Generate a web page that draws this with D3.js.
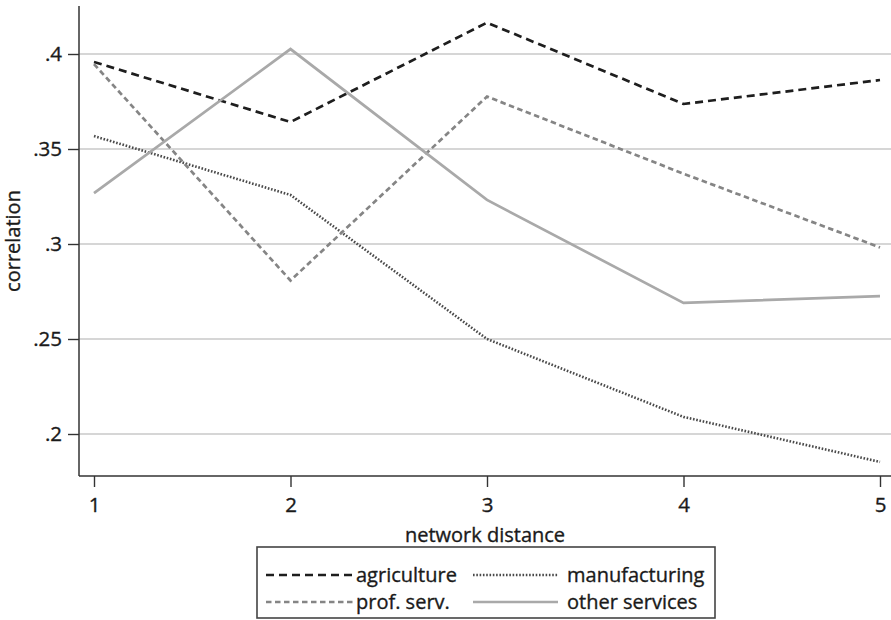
<!DOCTYPE html>
<html>
<head>
<meta charset="utf-8">
<script src="https://cdn.jsdelivr.net/npm/d3@7"></script>
<style>
  html, body { margin: 0; padding: 0; background: #fff; }
  svg { display: block; }
  text { font-family: "Open Sans", "Noto Sans", sans-serif; fill: #1a1a1a; stroke: #1a1a1a; stroke-width: 0.35px; }
</style>
</head>
<body>
<svg id="chart" width="891" height="620"></svg>
<script>
// Network distance (x) and correlation by sector
const distances = [1, 2, 3, 4, 5];
const agriculture   = [0.3958, 0.3642, 0.4165, 0.3737, 0.3863];
const manufacturing = [0.3568, 0.3258, 0.2500, 0.2090, 0.1853];
const profServ      = [0.3947, 0.2808, 0.3776, 0.3370, 0.2982];
const otherServices = [0.3268, 0.4026, 0.3232, 0.2690, 0.2726];
const yTicks = [0.2, 0.25, 0.3, 0.35, 0.4];
const seriesNames = ["agriculture", "manufacturing", "prof. serv.", "other services"];

const series = [
  { name: seriesNames[0], values: agriculture,   color: "#1e1e1e", width: 2.7, dash: "8,5" },
  { name: seriesNames[1], values: manufacturing, color: "#4a4a4a", width: 2.6, dash: "1.6,1.7" },
  { name: seriesNames[2], values: profServ,      color: "#858585", width: 2.7, dash: "5.5,3.5" },
  { name: seriesNames[3], values: otherServices, color: "#a9a9a9", width: 2.7, dash: null }
];

const svg = d3.select("#chart");
const W = 891;
const axisX = 79, axisBottom = 476, axisTop = 6;

const x = d3.scaleLinear().domain([1, 5]).range([94, 880]);
const y = d3.scaleLinear().domain([0.2, 0.4]).range([434, 54]);

const fmt = d => d3.format(".2~f")(d).replace(/^0/, "");

// horizontal gridlines
svg.append("g")
  .selectAll("line")
  .data(yTicks)
  .join("line")
  .attr("x1", axisX).attr("x2", W)
  .attr("y1", d => y(d)).attr("y2", d => y(d))
  .attr("stroke", "#c8c8c8").attr("stroke-width", 1.4);

// y axis
const yAxis = svg.append("g")
  .attr("transform", `translate(${axisX},0)`)
  .call(d3.axisLeft(y).tickValues(yTicks).tickFormat(fmt).tickSize(11).tickPadding(6));
yAxis.select(".domain").remove();
yAxis.selectAll(".tick line").attr("stroke", "#333").attr("stroke-width", 1.4);
yAxis.selectAll(".tick text").attr("font-size", 20.5).attr("fill", "#1a1a1a")
  .style("font-family", '"Open Sans", sans-serif');
svg.append("line")
  .attr("x1", axisX).attr("x2", axisX).attr("y1", axisTop).attr("y2", axisBottom)
  .attr("stroke", "#333").attr("stroke-width", 1.5);

// x axis
const xAxis = svg.append("g")
  .attr("transform", `translate(0,${axisBottom})`)
  .call(d3.axisBottom(x).tickValues(distances).tickFormat(d3.format("d")).tickSize(11).tickPadding(10));
xAxis.select(".domain").remove();
xAxis.selectAll(".tick line").attr("stroke", "#333").attr("stroke-width", 1.4);
xAxis.selectAll(".tick text").attr("font-size", 20.5).attr("fill", "#1a1a1a")
  .style("font-family", '"Open Sans", sans-serif');
svg.append("line")
  .attr("x1", axisX).attr("x2", W).attr("y1", axisBottom).attr("y2", axisBottom)
  .attr("stroke", "#333").attr("stroke-width", 1.5);

// axis titles
svg.append("text")
  .attr("x", 485).attr("y", 542)
  .attr("text-anchor", "middle").attr("font-size", 20)
  .text("network distance");
svg.append("text")
  .attr("transform", "translate(20,241) rotate(-90)")
  .attr("text-anchor", "middle").attr("font-size", 20)
  .text("correlation");

// series lines
const line = d3.line()
  .x((d, i) => x(distances[i]))
  .y(d => y(d));

svg.append("g")
  .selectAll("path")
  .data(series)
  .join("path")
  .attr("d", d => line(d.values))
  .attr("fill", "none")
  .attr("stroke", d => d.color)
  .attr("stroke-width", d => d.width)
  .attr("stroke-dasharray", d => d.dash)
  .attr("stroke-linejoin", "miter");

// legend
const lg = svg.append("g");
lg.append("rect")
  .attr("x", 257).attr("y", 547).attr("width", 458).attr("height", 71)
  .attr("fill", "#fff").attr("stroke", "#444").attr("stroke-width", 1.6);

const legendPos = [
  { sx: 266, ex: 353, tx: 356, y: 575 },
  { sx: 473, ex: 558, tx: 567, y: 575 },
  { sx: 266, ex: 353, tx: 356, y: 602 },
  { sx: 473, ex: 558, tx: 567, y: 602 }
];

series.forEach((s, i) => {
  const p = legendPos[i];
  lg.append("line")
    .attr("x1", p.sx).attr("x2", p.ex).attr("y1", p.y).attr("y2", p.y)
    .attr("stroke", s.color).attr("stroke-width", s.width)
    .attr("stroke-dasharray", s.dash);
  lg.append("text")
    .attr("x", p.tx).attr("y", p.y + 7)
    .attr("font-size", 20)
    .text(s.name);
});
</script>
</body>
</html>
